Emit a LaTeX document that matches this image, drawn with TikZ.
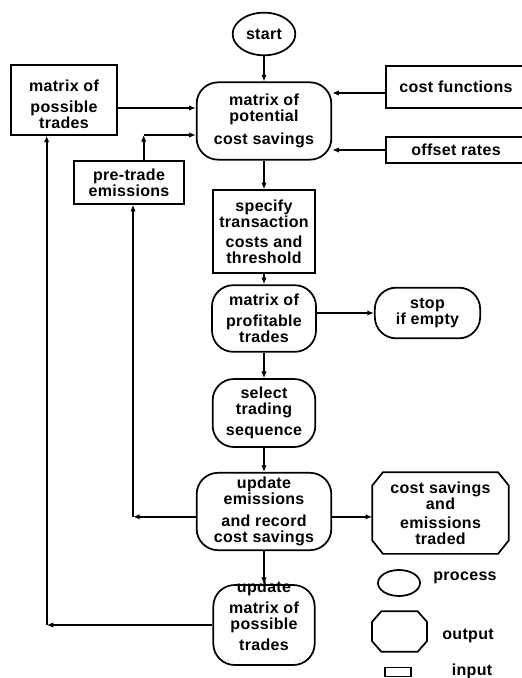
\documentclass[tikz,border=0pt]{standalone}
\usepackage{fontspec}
\setmainfont[LetterSpace=2]{Liberation Sans}
\usetikzlibrary{arrows.meta,shapes.geometric}

% octagon round a node: name, x chamfer, y chamfer
\newcommand{\drawoct}[3]{%
    \draw ([xshift=#2]#1.north west) -- ([xshift=-#2]#1.north east) -- ([yshift=-#3]#1.north east)
        -- ([yshift=#3]#1.south east) -- ([xshift=-#2]#1.south east) -- ([xshift=#2]#1.south west)
        -- ([yshift=#3]#1.south west) -- ([yshift=-#3]#1.north west) -- cycle;}

\begin{document}
\begin{tikzpicture}[x=0.75pt,y=-0.75pt,
        font=\fontsize{12}{12}\selectfont\bfseries,
        line width=1.3pt,
        box/.style={draw,align=center,inner sep=0pt},
        proc/.style={box,rounded corners=16pt},
        inbox/.style={box},
        outbox/.style={align=center,inner sep=0pt},
        arr/.style={-{Latex[length=5pt,width=4pt]}}]
    \useasboundingbox (0,0) rectangle (521,678);
    % main column
    \node[box,ellipse,minimum width=47pt,minimum height=32pt] (start) at (264,34) {start};
    \node[proc,minimum width=101pt,minimum height=58pt] (pot) at (264,121) {matrix of\\potential\\[5pt]cost savings};
    \node[inbox,minimum width=77pt,minimum height=62pt] (spec) at (264,231.5) {specify\\transaction\\[3pt]costs and\\threshold};
    \node[proc,minimum width=78pt,minimum height=50pt] (prof) at (264,318.5) {matrix of\\[4pt]profitable\\trades};
    \node[proc,minimum width=77pt,minimum height=51pt] (sel) at (264,413) {select\\trading\\[4pt]sequence};
    \node[proc,minimum width=101pt,minimum height=58pt] (upem) at (264,511.5) {update\\emissions\\[4pt]and record\\cost savings};
    \node[proc,minimum width=76pt,minimum height=60pt,
        label={[align=center,yshift=7pt]center:update\\[4pt]matrix of\\possible\\[4pt]trades}] (upmat) at (264,625) {};
    % inputs
    \node[inbox,minimum width=80pt,minimum height=52pt,
        label={[align=center,yshift=-3pt]center:matrix of\\[4pt]possible\\trades}] (poss) at (64,100) {};
    \node[inbox,minimum width=105pt,minimum height=32pt] (costf) at (456,87) {cost functions};
    \node[inbox,minimum width=105pt,minimum height=19pt] (offset) at (456,150) {offset rates};
    \node[inbox,minimum width=82.5pt,minimum height=32pt] (pre) at (129,182.5) {pre-trade\\emissions};
    % outputs
    \node[proc,minimum width=79pt,minimum height=38pt] (stop) at (427.5,313) {stop\\if empty};
    \node[outbox,minimum width=101pt,minimum height=60pt] (outp) at (440.5,513) {cost savings\\and\\[2pt]emissions\\traded};
    \drawoct{outp}{8pt}{10pt}
    % legend
    \node[box,ellipse,minimum width=31.5pt,minimum height=19.5pt] (lproc) at (399,583) {};
    \node[anchor=base] (lproctext) at (465,580) {process};
    \node[outbox,minimum width=40pt,minimum height=29pt] (lout) at (399.5,631.5) {};
    \drawoct{lout}{7pt}{8pt}
    \node[anchor=base] (louttext) at (468,639) {output};
    \node[inbox,minimum width=19.5pt,minimum height=6.75pt] (lin) at (398,672) {};
    \node[anchor=base] (lintext) at (472,675) {input};
    % connectors
    \draw[arr] (start) -- (pot);
    \draw[arr] (pot) -- (spec);
    \draw[arr] (spec) -- (prof);
    \draw[arr] (prof) -- (sel);
    \draw[arr] (sel) -- (upem);
    \draw[arr] (upem) -- (upmat);
    \draw[arr] (prof.east |- stop.west) -- (stop.west);
    \coordinate (possout) at ([yshift=-6pt]poss.east);
    \draw[arr] (possout) -- (possout -| pot.west);
    \coordinate (cfout) at ([yshift=-4.5pt]costf.west);
    \draw[arr] (cfout) -- (cfout -| pot.east);
    \draw[arr] (offset.west) -- (offset.west -| pot.east);
    \coordinate (preup) at ([xshift=11pt]pre.north);
    \coordinate (potin) at ([yshift=-10.5pt]pot.west);
    \coordinate (precorner) at (preup |- potin);
    \draw[arr] (preup) -- (precorner);
    \draw[arr] (precorner) -- (potin);
    \coordinate (upemr) at ([yshift=-4pt]upem.east);
    \draw[arr] (upemr) -- (upemr -| outp.west);
    \coordinate (upeml) at ([yshift=-4pt]upem.west);
    \coordinate (prebot) at ([xshift=3pt]pre.south);
    \coordinate (emcorner) at (prebot |- upeml);
    \draw[arr] (upeml) -- (emcorner);
    \draw[arr] (emcorner) -- (prebot);
    \coordinate (possbot) at ([xshift=-13pt]poss.south);
    \coordinate (matcorner) at (possbot |- upmat.west);
    \draw[arr] (upmat.west) -- (matcorner);
    \draw[arr] (matcorner) -- (possbot);
\end{tikzpicture}
\end{document}
